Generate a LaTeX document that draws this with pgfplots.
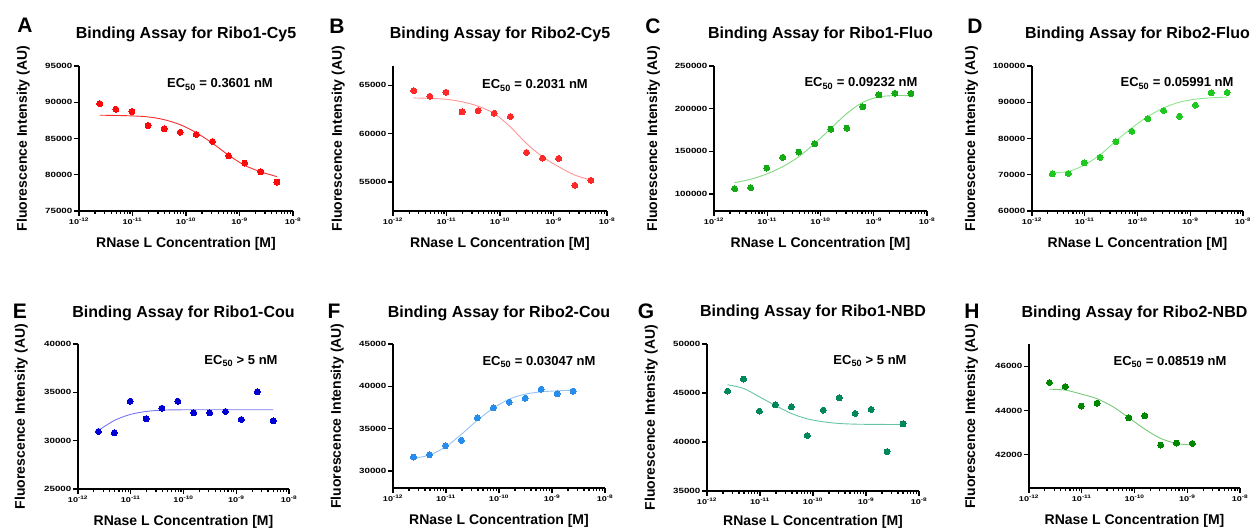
\documentclass[border=0pt]{standalone}
\usepackage{fontspec}
\setmainfont{Liberation Sans}
\newfontfamily\tickfont[FakeStretch=1.3]{Liberation Sans}
\usepackage{pgfplots}
\pgfplotsset{compat=1.18}

\definecolor{dA}{RGB}{250,10,10}\definecolor{lA}{RGB}{250,45,45}
\definecolor{dB}{RGB}{255,40,40}\definecolor{lB}{RGB}{255,150,150}
\definecolor{dC}{RGB}{20,170,20}\definecolor{lC}{RGB}{130,215,130}
\definecolor{dD}{RGB}{30,200,30}\definecolor{lD}{RGB}{140,230,140}
\definecolor{dE}{RGB}{0,0,210}\definecolor{lE}{RGB}{120,120,240}
\definecolor{dF}{RGB}{40,140,235}\definecolor{lF}{RGB}{150,195,245}
\definecolor{dG}{RGB}{0,136,90}\definecolor{lG}{RGB}{102,196,164}
\definecolor{dH}{RGB}{0,135,0}\definecolor{lH}{RGB}{120,200,120}

\pgfplotsset{
  panel/.style={
    scale only axis, xmin=1e-12, xmax=1e-8,
    axis x line*=bottom, axis y line*=left,
    axis line style={line width=1.4pt,-},
    tick style={line width=1.2pt,black}, tick align=outside, major tick length=5pt,
    xtick={1e-12,1e-11,1e-10,1e-9,1e-8},
    xticklabels={10\textsuperscript{-12},10\textsuperscript{-11},10\textsuperscript{-10},10\textsuperscript{-9},10\textsuperscript{-8}},
    minor xtick={}, minor ytick={},
    scaled y ticks=false,
    /pgf/number format/fixed, /pgf/number format/precision=0,
    /pgf/number format/1000 sep={}, /pgf/number format/assume math mode=true,
    xticklabel style={font=\tickfont\bfseries\fontsize{7}{8}\selectfont, inner sep=1.5pt},
    yticklabel style={font=\tickfont\bfseries\fontsize{7.5}{8}\selectfont, inner sep=1.5pt},
    title style={anchor=base, font=\bfseries\fontsize{16}{18}\selectfont, yshift=0pt},
    every axis x label/.style={anchor=base, font=\bfseries\fontsize{14}{16}\selectfont},
    every axis y label/.style={rotate=90, anchor=base, font=\bfseries\fontsize{14}{16}\selectfont},
    xlabel={RNase L Concentration [M]},
    ylabel={Fluorescence Intensity (AU)},
    clip=false,
  },
  dots/.style={only marks, color=#1, mark=*, mark size=3pt, mark options={draw=#1, fill=#1, line width=0pt}},
  fitc/.style={no markers, smooth, line width=0.9pt, color=#1},
}

\begin{document}
\begin{tikzpicture}
\useasboundingbox (0,0) rectangle (1250pt,528pt);

% ---------------- A
\begin{semilogxaxis}[panel, at={(79pt,317pt)}, anchor=south west, width=214pt, height=145pt,
  ymin=75000, ymax=95000, ytick={75000,80000,85000,90000,95000},
  title={Binding Assay for Ribo1-Cy5},
  title style={at={(axis description cs:0.5,1.1517)}},
  xlabel style={at={(axis description cs:0.5,-0.2517)}},
  ylabel style={at={(axis description cs:-0.2430,0.5)}}]
\addplot[fitc=lA] coordinates {(2.441e-12,88210)(4.883e-12,88180)(9.766e-12,88120)(1.953e-11,87980)(3.906e-11,87600)(7.813e-11,86900)(1.563e-10,85800)(3.125e-10,84350)(6.25e-10,82700)(1.25e-9,81300)(2.5e-9,80400)(5e-9,79750)};
\addplot[dots=dA] coordinates {(2.441e-12,89820)(4.883e-12,89040)(9.766e-12,88720)(1.953e-11,86790)(3.906e-11,86330)(7.813e-11,85870)(1.563e-10,85550)(3.125e-10,84590)(6.25e-10,82610)(1.25e-9,81610)(2.5e-9,80410)(5e-9,78990)};
\end{semilogxaxis}

% ---------------- B
\begin{semilogxaxis}[panel, at={(393pt,317pt)}, anchor=south west, width=214pt, height=145pt,
  ymin=52000, ymax=67000, ytick={55000,60000,65000},
  title={Binding Assay for Ribo2-Cy5},
  title style={at={(axis description cs:0.5,1.1517)}},
  xlabel style={at={(axis description cs:0.5,-0.2517)}},
  ylabel style={at={(axis description cs:-0.2383,0.5)}}]
\addplot[fitc=lB] coordinates {(2.441e-12,63700)(4.883e-12,63650)(9.766e-12,63560)(1.953e-11,63300)(3.906e-11,62840)(7.813e-11,62080)(1.563e-10,60700)(3.125e-10,58990)(6.25e-10,57610)(1.25e-9,56580)(2.5e-9,55720)(5e-9,55200)};
\addplot[dots=dB] coordinates {(2.441e-12,64450)(4.883e-12,63870)(9.766e-12,64280)(1.953e-11,62250)(3.906e-11,62390)(7.813e-11,62110)(1.563e-10,61770)(3.125e-10,58060)(6.25e-10,57470)(1.25e-9,57440)(2.5e-9,54660)(5e-9,55170)};
\end{semilogxaxis}

% ---------------- C
\begin{semilogxaxis}[panel, at={(714pt,317pt)}, anchor=south west, width=213pt, height=145pt,
  ymin=80000, ymax=250000, ytick={100000,150000,200000,250000},
  title={Binding Assay for Ribo1-Fluo},
  title style={at={(axis description cs:0.5,1.1517)}},
  xlabel style={at={(axis description cs:0.5,-0.2517)}},
  ylabel style={at={(axis description cs:-0.2676,0.5)}}]
\addplot[fitc=lC] coordinates {(2.441e-12,113300)(4.883e-12,117200)(9.766e-12,123400)(1.953e-11,132000)(3.906e-11,143600)(7.813e-11,159200)(1.563e-10,176800)(3.125e-10,194300)(6.25e-10,207500)(1.25e-9,213800)(2.5e-9,215300)(5e-9,215300)};
\addplot[dots=dC] coordinates {(2.441e-12,106300)(4.883e-12,107400)(9.766e-12,130400)(1.953e-11,142900)(3.906e-11,149100)(7.813e-11,158800)(1.563e-10,176000)(3.125e-10,177200)(6.25e-10,202100)(1.25e-9,216100)(2.5e-9,218100)(5e-9,217700)};
\end{semilogxaxis}

% ---------------- D
\begin{semilogxaxis}[panel, at={(1032pt,317pt)}, anchor=south west, width=211pt, height=145pt,
  ymin=60000, ymax=100000, ytick={60000,70000,80000,90000,100000},
  title={Binding Assay for Ribo2-Fluo},
  title style={at={(axis description cs:0.5,1.1517)}},
  xlabel style={at={(axis description cs:0.5,-0.2517)}},
  ylabel style={at={(axis description cs:-0.2701,0.5)}}]
\addplot[fitc=lD] coordinates {(2.441e-12,70530)(4.883e-12,70900)(9.766e-12,72650)(1.953e-11,75520)(3.906e-11,79310)(7.813e-11,82910)(1.563e-10,86050)(3.125e-10,88450)(6.25e-10,90020)(1.25e-9,90850)(2.5e-9,91220)(5e-9,91410)};
\addplot[dots=dD] coordinates {(2.441e-12,70250)(4.883e-12,70350)(9.766e-12,73300)(1.953e-11,74780)(3.906e-11,79120)(7.813e-11,81990)(1.563e-10,85500)(3.125e-10,87710)(6.25e-10,86140)(1.25e-9,89190)(2.5e-9,92610)(5e-9,92700)};
\end{semilogxaxis}

% ---------------- E
\begin{semilogxaxis}[panel, at={(78pt,39pt)}, anchor=south west, width=211pt, height=145pt,
  ymin=25000, ymax=40000, ytick={25000,30000,35000,40000},
  title={Binding Assay for Ribo1-Cou},
  title style={at={(axis description cs:0.5,1.1448)}},
  xlabel style={at={(axis description cs:0.5,-0.2517)}},
  ylabel style={at={(axis description cs:-0.2512,0.5)}}]
\addplot[fitc=lE] coordinates {(2.441e-12,31060)(4.883e-12,32090)(9.766e-12,32710)(1.953e-11,33020)(3.906e-11,33160)(7.813e-11,33190)(1.563e-10,33200)(3.125e-10,33200)(6.25e-10,33200)(1.25e-9,33200)(2.5e-9,33200)(5e-9,33200)};
\addplot[dots=dE] coordinates {(2.441e-12,30950)(4.883e-12,30820)(9.766e-12,34080)(1.953e-11,32260)(3.906e-11,33360)(7.813e-11,34080)(1.563e-10,32880)(3.125e-10,32880)(6.25e-10,33020)(1.25e-9,32190)(2.5e-9,35050)(5e-9,32050)};
\end{semilogxaxis}

% ---------------- F
\begin{semilogxaxis}[panel, at={(393pt,40pt)}, anchor=south west, width=212pt, height=144pt,
  ymin=28000, ymax=45000, ytick={30000,35000,40000,45000},
  title={Binding Assay for Ribo2-Cou},
  title style={at={(axis description cs:0.5,1.1458)}},
  xlabel style={at={(axis description cs:0.5,-0.2535)}},
  ylabel style={at={(axis description cs:-0.2453,0.5)}}]
\addplot[fitc=lF] coordinates {(2.441e-12,31500)(4.883e-12,31890)(9.766e-12,32840)(1.953e-11,34340)(3.906e-11,36000)(7.813e-11,37420)(1.563e-10,38490)(3.125e-10,39080)(6.25e-10,39350)(1.25e-9,39470)(2.5e-9,39550)};
\addplot[dots=dF] coordinates {(2.441e-12,31660)(4.883e-12,31930)(9.766e-12,33000)(1.953e-11,33630)(3.906e-11,36280)(7.813e-11,37460)(1.563e-10,38130)(3.125e-10,38600)(6.25e-10,39670)(1.25e-9,39120)(2.5e-9,39430)};
\end{semilogxaxis}

% ---------------- G
\begin{semilogxaxis}[panel, at={(707pt,37pt)}, anchor=south west, width=212pt, height=147pt,
  ymin=35000, ymax=50000, ytick={35000,40000,45000,50000},
  title={Binding Assay for Ribo1-NBD},
  title style={at={(axis description cs:0.5,1.1429)}},
  xlabel style={at={(axis description cs:0.5,-0.2347)}},
  ylabel style={at={(axis description cs:-0.2453,0.5)}}]
\addplot[fitc=lG] coordinates {(2.441e-12,45840)(4.883e-12,45470)(9.766e-12,44610)(1.953e-11,43730)(3.906e-11,42910)(7.813e-11,42360)(1.563e-10,42060)(3.125e-10,41890)(6.25e-10,41820)(1.25e-9,41800)(2.5e-9,41790)(5e-9,41780)};
\addplot[dots=dG] coordinates {(2.441e-12,45190)(4.883e-12,46420)(9.766e-12,43150)(1.953e-11,43790)(3.906e-11,43590)(7.813e-11,40660)(1.563e-10,43250)(3.125e-10,44510)(6.25e-10,42910)(1.25e-9,43320)(2.5e-9,39020)(5e-9,41850)};
\end{semilogxaxis}

% ---------------- H
\begin{semilogxaxis}[panel, at={(1029pt,40pt)}, anchor=south west, width=211pt, height=144pt,
  ymin=40500, ymax=47000, ytick={42000,44000,46000},
  title={Binding Assay for Ribo2-NBD},
  title style={at={(axis description cs:0.5,1.1458)}},
  xlabel style={at={(axis description cs:0.5,-0.2535)}},
  ylabel style={at={(axis description cs:-0.2559,0.5)}}]
\addplot[fitc=lH] coordinates {(2.441e-12,44960)(4.883e-12,44920)(9.766e-12,44740)(1.953e-11,44530)(3.906e-11,44170)(7.813e-11,43670)(1.563e-10,43160)(3.125e-10,42740)(6.25e-10,42510)(1.25e-9,42440)};
\addplot[dots=dH] coordinates {(2.441e-12,45260)(4.883e-12,45080)(9.766e-12,44200)(1.953e-11,44330)(7.813e-11,43670)(1.563e-10,43760)(3.125e-10,42440)(6.25e-10,42530)(1.25e-9,42510)};
\end{semilogxaxis}

% EC50 annotations
\begin{scope}[every node/.style={anchor=base, font=\bfseries\fontsize{13}{15}\selectfont, inner sep=0pt}]
\node at (220pt,440pt) {EC\textsubscript{50} = 0.3601 nM};
\node at (535pt,439pt) {EC\textsubscript{50} = 0.2031 nM};
\node at (861pt,441pt) {EC\textsubscript{50} = 0.09232 nM};
\node at (1177pt,441pt) {EC\textsubscript{50} = 0.05991 nM};
\node at (241pt,163.3pt) {EC\textsubscript{50} > 5 nM};
\node at (539pt,162.3pt) {EC\textsubscript{50} = 0.03047 nM};
\node at (870pt,163.3pt) {EC\textsubscript{50} > 5 nM};
\node at (1170pt,163pt) {EC\textsubscript{50} = 0.08519 nM};
\end{scope}

% panel letters
\begin{scope}[every node/.style={anchor=center, font=\bfseries\fontsize{21}{24}\selectfont, inner sep=0pt}]
\node at (25pt,502.5pt) {A};
\node at (337pt,501.5pt) {B};
\node at (653pt,501.5pt) {C};
\node at (975pt,501.5pt) {D};
\node at (20pt,216.5pt) {E};
\node at (334pt,216.5pt) {F};
\node at (646pt,216.5pt) {G};
\node at (972pt,216.5pt) {H};
\end{scope}
\end{tikzpicture}
\end{document}
